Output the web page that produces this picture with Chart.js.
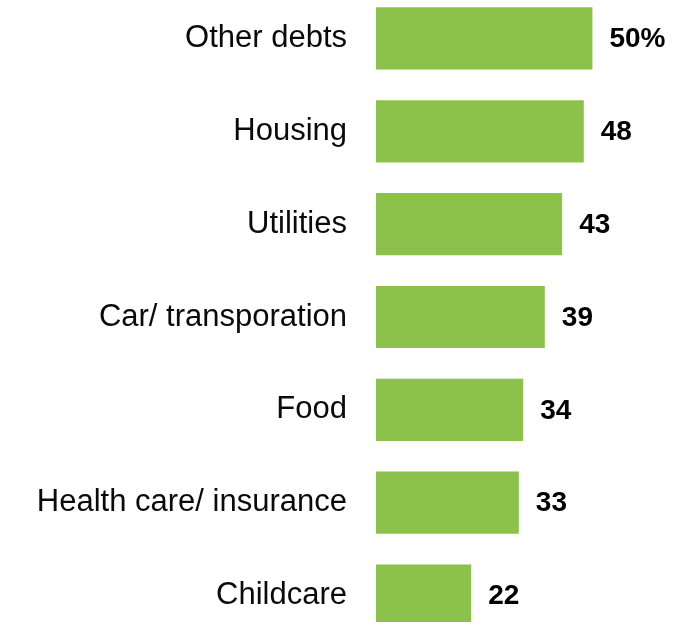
<!DOCTYPE html>
<html lang="en">
<head>
    <meta charset="UTF-8">
    <title>Spending areas</title>
    <script src="https://cdn.jsdelivr.net/npm/chart.js"></script>
    <style>
        html, body { margin: 0; padding: 0; background: #fff; overflow: hidden; }
        #spendChart { position: absolute; left: 0; top: -8px; }
    </style>
</head>
<body>
    <canvas id="spendChart" width="679" height="650"></canvas>

<script>
    // カテゴリと値
    const categories = ['Other debts', 'Housing', 'Utilities', 'Car/ transporation', 'Food', 'Health care/ insurance', 'Childcare'];
    const values = [50, 48, 43, 39, 34, 33, 22];
    const valueLabels = ['50%', '48', '43', '39', '34', '33', '22'];

    // バーの右側に値を書くプラグイン
    const valueLabelPlugin = {
        id: 'valueLabels',
        afterDatasetsDraw(chart) {
            const ctx = chart.ctx;
            const meta = chart.getDatasetMeta(0);
            ctx.save();
            ctx.font = 'bold 28px "Liberation Sans", Arial, sans-serif';
            ctx.fillStyle = '#000';
            ctx.textAlign = 'left';
            ctx.textBaseline = 'middle';
            meta.data.forEach((bar, i) => {
                ctx.fillText(valueLabels[i], bar.x + 17, bar.y + 1);
            });
            ctx.restore();
        }
    };

    const ctx = document.getElementById('spendChart').getContext('2d');
    new Chart(ctx, {
        type: 'bar',
        data: {
            labels: categories,
            datasets: [{
                data: values,
                backgroundColor: '#8cc24b',
                borderWidth: 0,
                barPercentage: 0.67,
                categoryPercentage: 1.0
            }]
        },
        options: {
            indexAxis: 'y',
            responsive: false,
            animation: false,
            layout: { padding: 0 },
            plugins: {
                legend: { display: false },
                tooltip: { enabled: false }
            },
            scales: {
                x: {
                    display: false,
                    min: 0,
                    max: 70
                },
                y: {
                    grid: { display: false, drawTicks: false },
                    border: { display: false },
                    ticks: {
                        padding: 29,
                        color: '#0a0a0a',
                        font: { family: '"Liberation Sans", Arial, sans-serif', size: 31 }
                    },
                    afterFit(scale) {
                        // 目盛りのpaddingが上下の余白に回らないようにする
                        scale.width = 376;
                        scale.paddingTop = 0;
                        scale.paddingBottom = 0;
                    }
                }
            }
        },
        plugins: [valueLabelPlugin]
    });
</script>
</body>
</html>
